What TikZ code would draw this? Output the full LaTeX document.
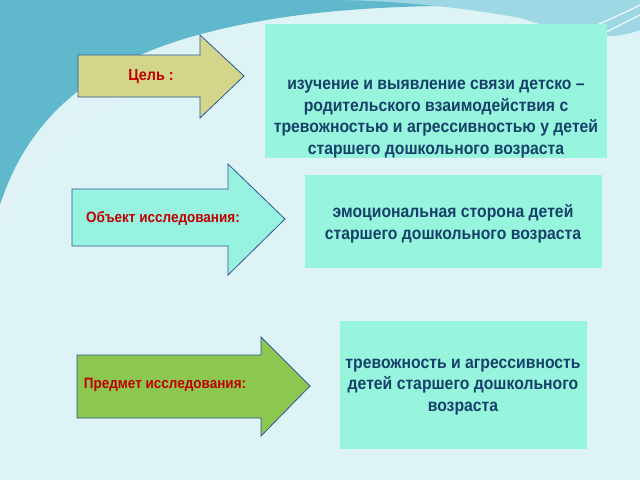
\documentclass[tikz,border=0pt]{standalone}
\usepackage{fontspec}
\setmainfont[FakeStretch=0.9]{Liberation Sans}
\definecolor{bg}{HTML}{DDF3F6}
\definecolor{wave1}{HTML}{5FB8CC}
\definecolor{wave2}{HTML}{9ED8E4}
\definecolor{boxc}{HTML}{96F5DC}
\definecolor{txt}{HTML}{17406A}
\definecolor{lab}{HTML}{C00000}
\definecolor{ar1}{HTML}{D3D68A}
\definecolor{ar2}{HTML}{98F2E0}
\definecolor{ar3}{HTML}{8CC850}
\definecolor{edge}{HTML}{2F5597}
\tikzset{infobox/.style={fill=boxc,draw=none,text=txt,font=\bfseries\fontsize{17.5}{21.5}\selectfont,align=center,inner sep=0pt},
labtext/.style={text=lab,font=\bfseries\fontsize{15}{17}\selectfont},
arrowshape/.style={draw=edge,line width=0.8pt}}
\begin{document}
\begin{tikzpicture}[x=1pt,y=-1pt]
\useasboundingbox (0,0) rectangle (640,480);
\fill[bg] (0,0) rectangle (640,480);
\fill[wave1] (0,0) -- (640,0) -- (640,20) .. controls (560,5) and (420,0) .. (300,15) .. controls (150,35) and (40,80) .. (0,205) -- cycle;
\fill[wave2] (330,0) -- (640,0) -- (640,30) .. controls (600,45) and (560,30) .. (520,18) .. controls (450,5) and (380,0) .. (330,0) -- cycle;
\fill[white!70!wave2] (0,205) .. controls (40,110) and (150,45) .. (330,35) .. controls (160,55) and (60,110) .. (0,225) -- cycle;
\draw[white,line width=1pt] (640,5) .. controls (600,25) and (560,40) .. (520,60);
\draw[white,line width=1pt] (640,15) .. controls (610,30) and (580,45) .. (560,60);
% arrows
\draw[arrowshape,fill=ar1] (78,55) -- (200,55) -- (200,35) -- (244,76) -- (200,118) -- (200,97) -- (78,97) -- cycle;
\draw[arrowshape,fill=ar2] (72,189) -- (228,189) -- (228,164) -- (285,219) -- (228,275) -- (228,246) -- (72,246) -- cycle;
\draw[arrowshape,fill=ar3] (77,355) -- (261,355) -- (261,337) -- (310,386) -- (261,436) -- (261,418) -- (77,418) -- cycle;
\node[labtext,font=\bfseries\fontsize{16}{18}\selectfont] (l1) at (151,77) {Цель :};
\node[labtext] (l2) at (163,218) {Объект исследования:};
\node[labtext] (l3) at (165,385) {Предмет исследования:};
% boxes
\fill[boxc] (265,24) rectangle (607,158);
\node[infobox] (b1) at (436,119) {изучение и выявление связи детско –\\родительского взаимодействия  с\\тревожностью и агрессивностью у детей\\старшего дошкольного возраста};
\fill[boxc] (305,175) rectangle (602,268);
\node[infobox] (b2) at (453,224) {эмоциональная сторона детей\\старшего дошкольного возраста};
\fill[boxc] (340,321) rectangle (587,449);
\node[infobox] (b3) at (463,387) {тревожность и агрессивность\\детей старшего дошкольного\\возраста};
\end{tikzpicture}
\end{document}
